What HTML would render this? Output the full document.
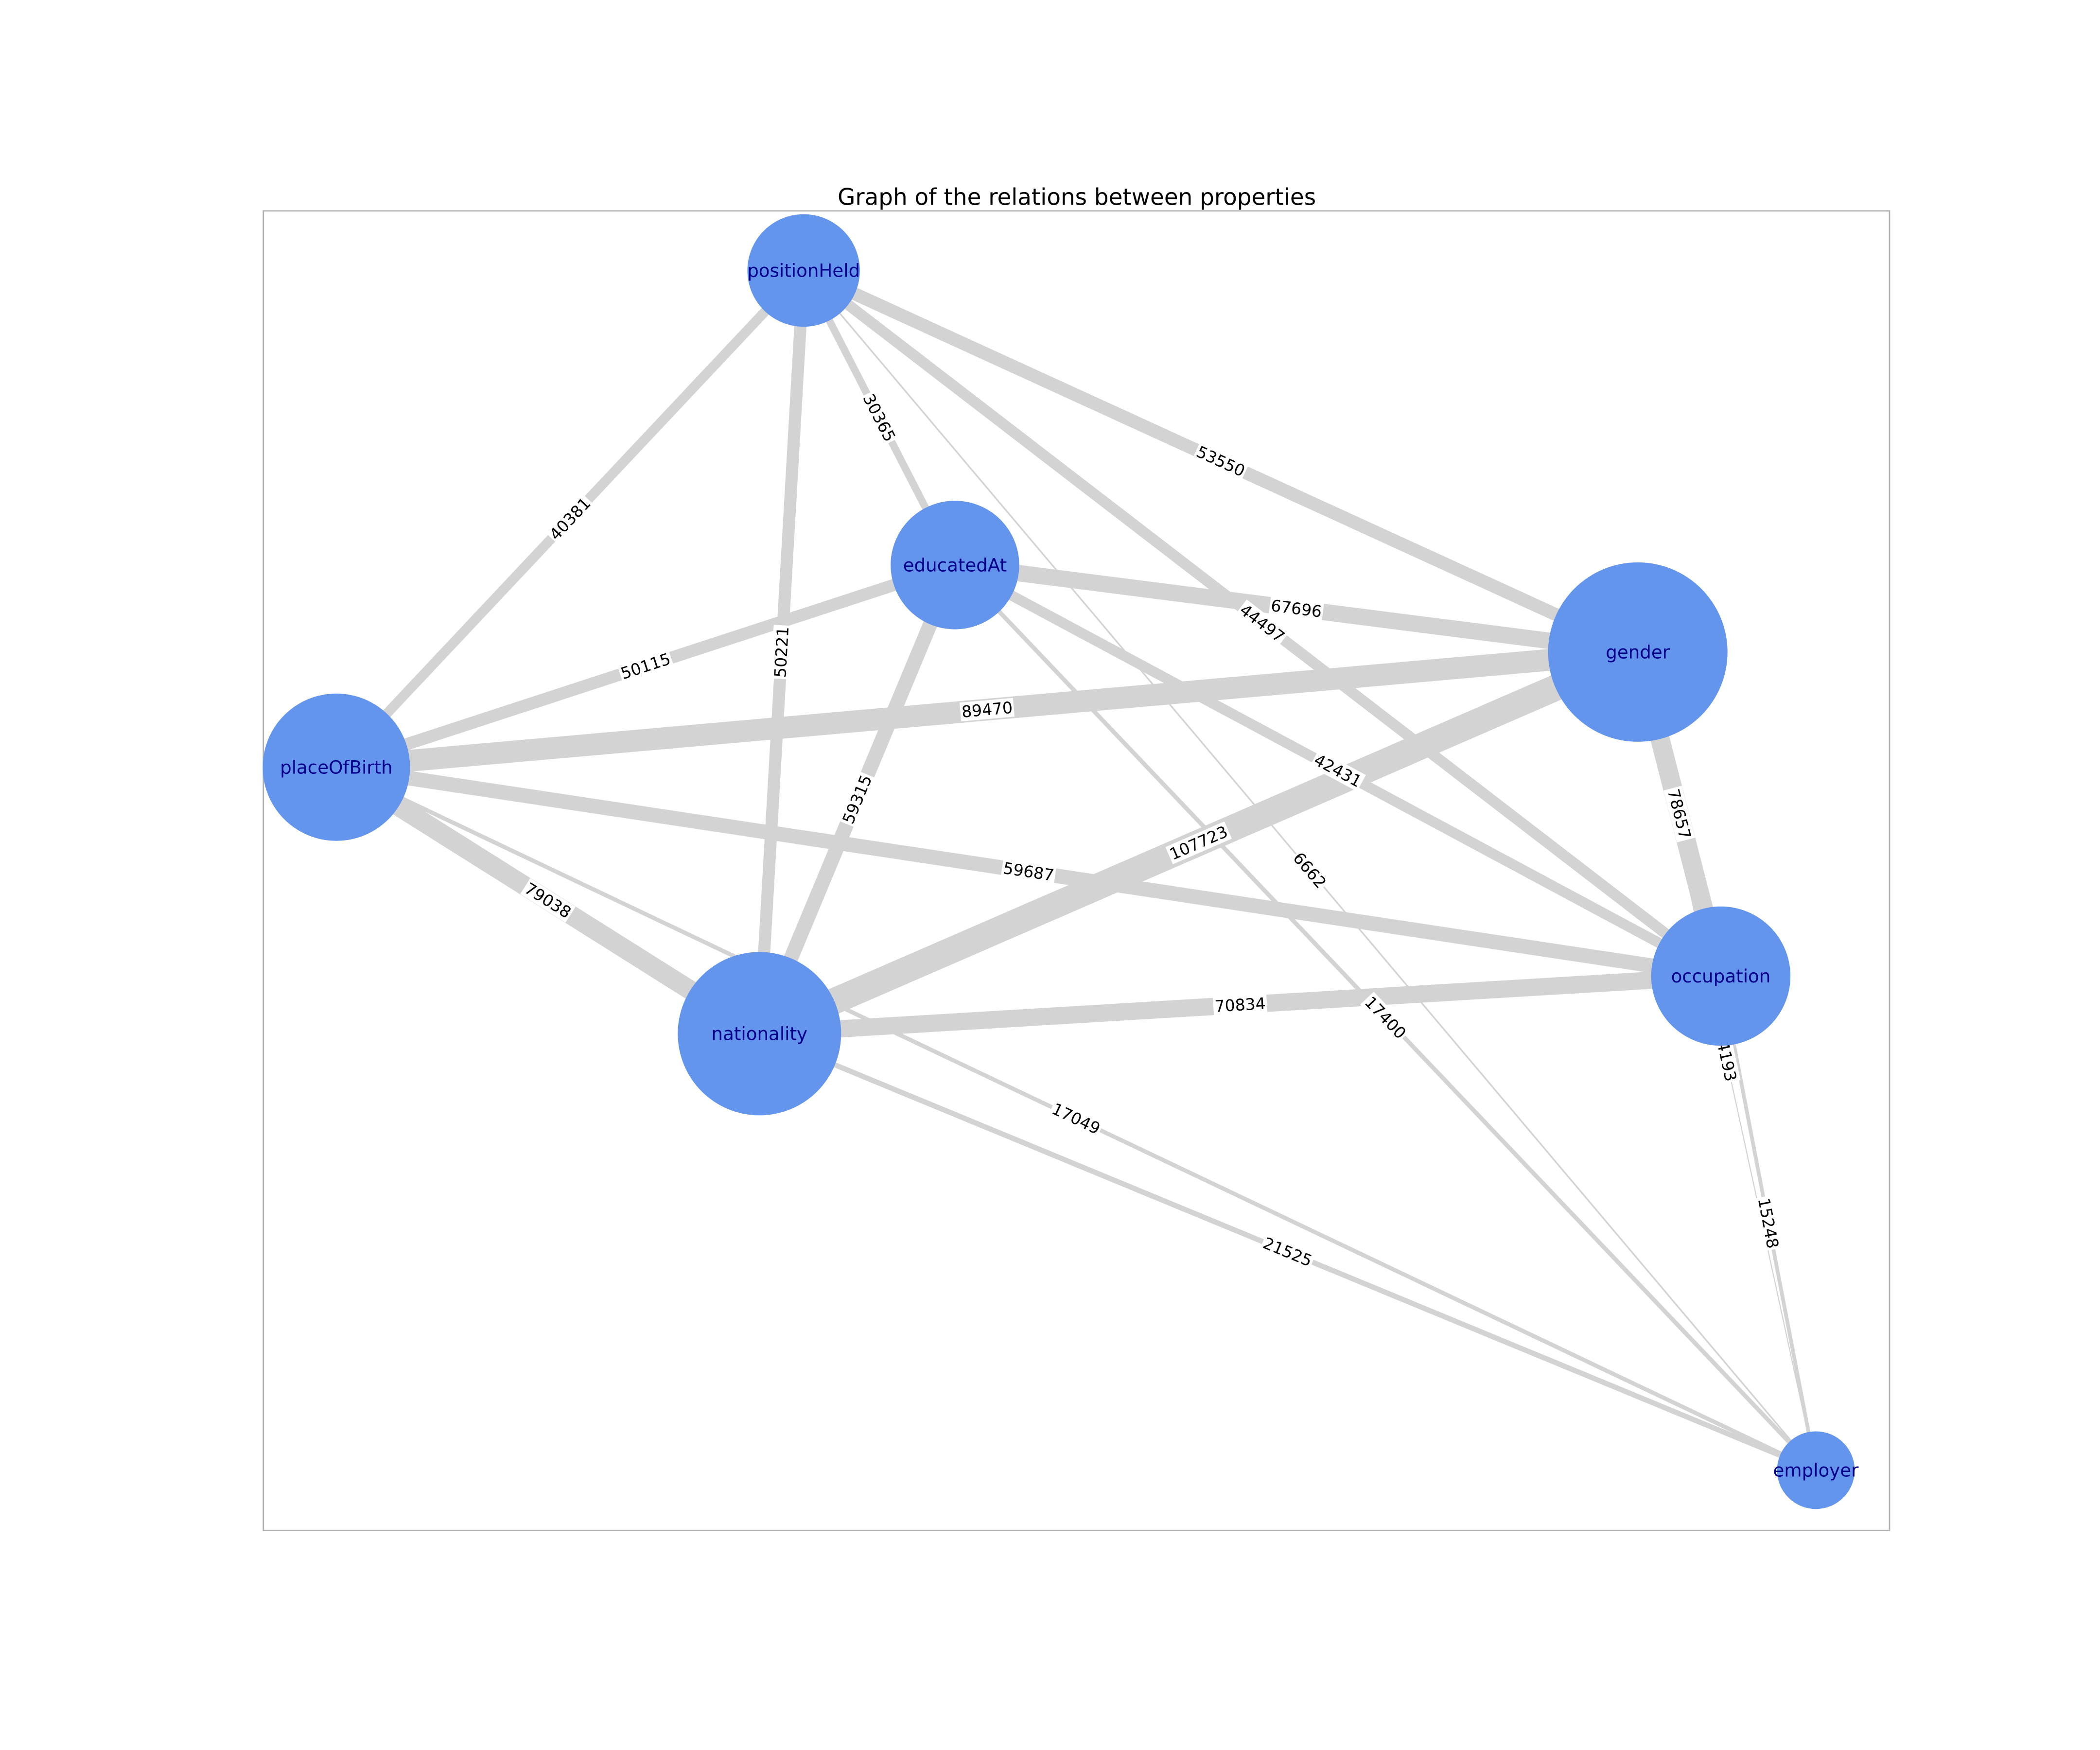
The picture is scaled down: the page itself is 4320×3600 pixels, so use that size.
<!DOCTYPE html>
<html><head><meta charset="utf-8"><style>
html,body{margin:0;padding:0;background:#fff;}
svg{display:block;}
text{font-family:"DejaVu Sans","Liberation Sans",sans-serif;}
.el rect{fill:#fff;}
.el text{font-size:12px;fill:#000;text-anchor:middle;dominant-baseline:central;}
.nl{font-size:13.5px;fill:#00008b;text-anchor:middle;dominant-baseline:central;}
</style></head><body>
<svg width="4320" height="3600" viewBox="0 0 1568 1307" xmlns="http://www.w3.org/2000/svg">
<rect width="1568" height="1307" fill="#fff"/>
<text x="804" y="153" font-size="17" text-anchor="middle" fill="#000">Graph of the relations between properties</text>
<rect x="196.5" y="157.5" width="1214.5" height="985.5" fill="none" stroke="#b0b0b0" stroke-width="1"/>
<g stroke="#d3d3d3" stroke-linecap="butt">
<line x1="600" y1="202" x2="251" y2="573" stroke-width="7.3"/>
<line x1="600" y1="202" x2="567" y2="772" stroke-width="9.1"/>
<line x1="600" y1="202" x2="713" y2="422" stroke-width="5.5"/>
<line x1="600" y1="202" x2="1223" y2="487" stroke-width="9.7"/>
<line x1="600" y1="202" x2="1285" y2="729" stroke-width="8.1"/>
<line x1="600" y1="202" x2="1356" y2="1098" stroke-width="1.2"/>
<line x1="713" y1="422" x2="1356" y2="1098" stroke-width="3.2"/>
<line x1="713" y1="422" x2="1223" y2="487" stroke-width="12.3"/>
<line x1="713" y1="422" x2="251" y2="573" stroke-width="9.1"/>
<line x1="713" y1="422" x2="567" y2="772" stroke-width="10.8"/>
<line x1="713" y1="422" x2="1285" y2="729" stroke-width="7.7"/>
<line x1="1223" y1="487" x2="251" y2="573" stroke-width="16.3"/>
<line x1="1223" y1="487" x2="567" y2="772" stroke-width="19.6"/>
<line x1="1223" y1="487" x2="1285" y2="729" stroke-width="14.3"/>
<line x1="1223" y1="487" x2="1356" y2="1098" stroke-width="0.8"/>
<line x1="251" y1="573" x2="1285" y2="729" stroke-width="10.9"/>
<line x1="251" y1="573" x2="567" y2="772" stroke-width="14.4"/>
<line x1="251" y1="573" x2="1356" y2="1098" stroke-width="3.1"/>
<line x1="567" y1="772" x2="1285" y2="729" stroke-width="12.9"/>
<line x1="567" y1="772" x2="1356" y2="1098" stroke-width="3.9"/>
<line x1="1285" y1="729" x2="1356" y2="1098" stroke-width="2.8"/>
</g>
<g class="el">
<g transform="translate(425.5,387.5) rotate(-46.7)"><rect x="-20" y="-7" width="40" height="14"/><text>40381</text></g>
<g transform="translate(583.5,487) rotate(-86.7)"><rect x="-20" y="-7" width="40" height="14"/><text>50221</text></g>
<g transform="translate(656.5,312) rotate(62.8)"><rect x="-20" y="-7" width="40" height="14"/><text>30365</text></g>
<g transform="translate(911.5,344.5) rotate(24.6)"><rect x="-20" y="-7" width="40" height="14"/><text>53550</text></g>
<g transform="translate(942.5,465.5) rotate(37.6)"><rect x="-20" y="-7" width="40" height="14"/><text>44497</text></g>
<g transform="translate(978,650) rotate(49.8)"><rect x="-16" y="-7" width="32" height="14"/><text>6662</text></g>
<g transform="translate(1034.5,760) rotate(46.4)"><rect x="-20" y="-7" width="40" height="14"/><text>17400</text></g>
<g transform="translate(968,454.5) rotate(7.3)"><rect x="-20" y="-7" width="40" height="14"/><text>67696</text></g>
<g transform="translate(482,497.5) rotate(-18.1)"><rect x="-20" y="-7" width="40" height="14"/><text>50115</text></g>
<g transform="translate(640,597) rotate(-67.4)"><rect x="-20" y="-7" width="40" height="14"/><text>59315</text></g>
<g transform="translate(999,575.5) rotate(28.2)"><rect x="-20" y="-7" width="40" height="14"/><text>42431</text></g>
<g transform="translate(737,530) rotate(-5.1)"><rect x="-20" y="-7" width="40" height="14"/><text>89470</text></g>
<g transform="translate(895,629.5) rotate(-23.5)"><rect x="-24" y="-7" width="48" height="14"/><text>107723</text></g>
<g transform="translate(1254,608) rotate(75.6)"><rect x="-20" y="-7" width="40" height="14"/><text>78657</text></g>
<g transform="translate(1289.5,792.5) rotate(77.7)"><rect x="-16" y="-7" width="32" height="14"/><text>4193</text></g>
<g transform="translate(768,651) rotate(8.6)"><rect x="-20" y="-7" width="40" height="14"/><text>59687</text></g>
<g transform="translate(409,672.5) rotate(32.2)"><rect x="-20" y="-7" width="40" height="14"/><text>79038</text></g>
<g transform="translate(803.5,835.5) rotate(25.4)"><rect x="-20" y="-7" width="40" height="14"/><text>17049</text></g>
<g transform="translate(926,750.5) rotate(-3.4)"><rect x="-20" y="-7" width="40" height="14"/><text>70834</text></g>
<g transform="translate(961.5,935) rotate(22.4)"><rect x="-20" y="-7" width="40" height="14"/><text>21525</text></g>
<g transform="translate(1320.5,913.5) rotate(79.1)"><rect x="-20" y="-7" width="40" height="14"/><text>15248</text></g>
</g>
<g fill="#6495ed">
<circle cx="600" cy="202" r="42"/>
<circle cx="713" cy="422" r="48"/>
<circle cx="1223" cy="487" r="67"/>
<circle cx="251" cy="573" r="55"/>
<circle cx="1285" cy="729" r="52"/>
<circle cx="567" cy="772" r="61"/>
<circle cx="1356" cy="1098" r="29"/>
</g>
<text class="nl" x="600" y="202">positionHeld</text>
<text class="nl" x="713" y="422">educatedAt</text>
<text class="nl" x="1223" y="487">gender</text>
<text class="nl" x="251" y="573">placeOfBirth</text>
<text class="nl" x="1285" y="729">occupation</text>
<text class="nl" x="567" y="772">nationality</text>
<text class="nl" x="1356" y="1098">employer</text>
</svg>
</body></html>
